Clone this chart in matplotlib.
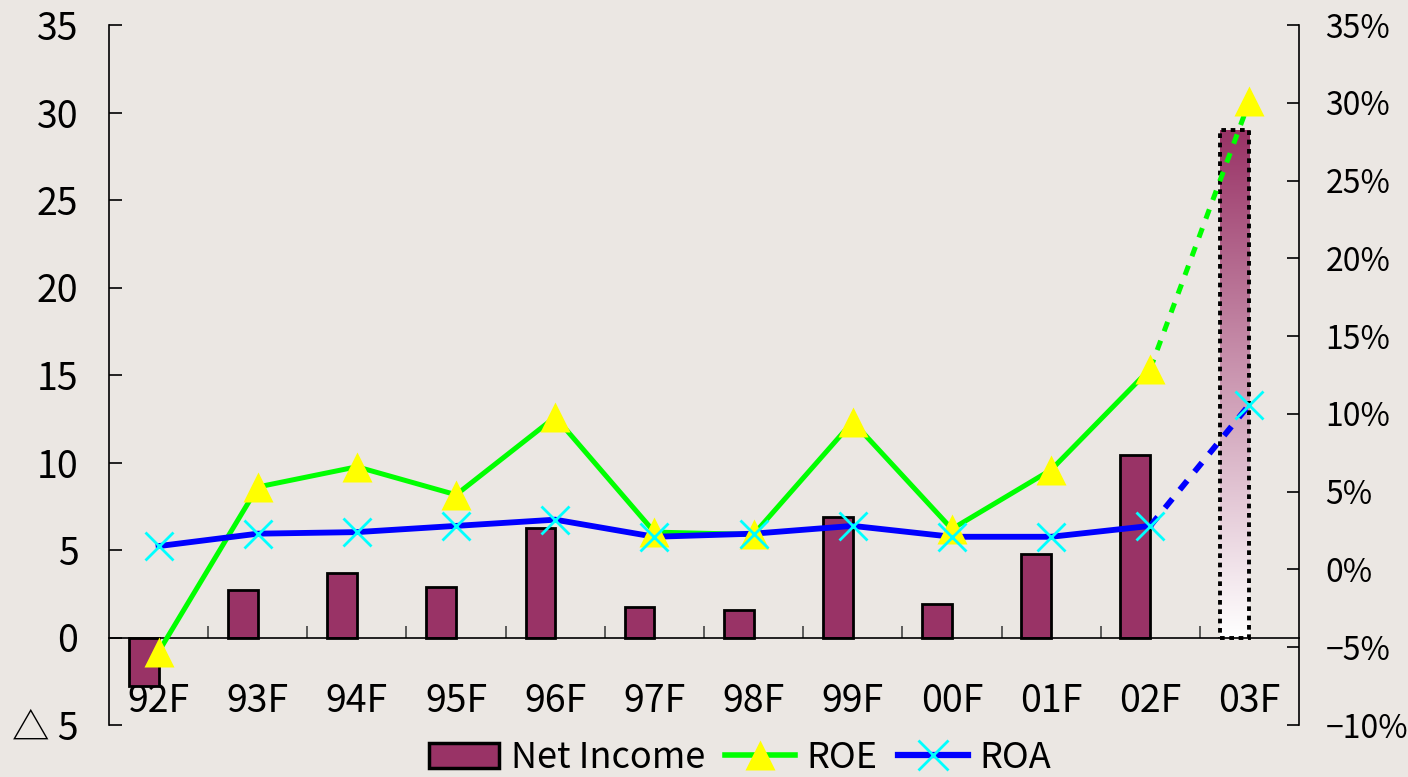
import numpy as np
import matplotlib
matplotlib.use("Agg")
import matplotlib.pyplot as plt
from matplotlib.patches import Patch
from matplotlib.lines import Line2D
from matplotlib.ticker import FuncFormatter

plt.rcParams["font.family"] = ["Noto Sans CJK JP", "DejaVu Sans"]

# data
years = ["92F", "93F", "94F", "95F", "96F", "97F", "98F", "99F", "00F", "01F", "02F", "03F"]
net_income = [-2.75, 2.7, 3.7, 2.9, 6.25, 1.75, 1.6, 6.9, 1.9, 4.8, 10.45, 29.0]
roe = [-5.3, 5.3, 6.6, 4.8, 9.8, 2.4, 2.25, 9.5, 2.6, 6.4, 12.9, 30.1]  # %
roa = [1.5, 2.3, 2.4, 2.8, 3.2, 2.1, 2.3, 2.8, 2.1, 2.1, 2.8, 10.6]  # %

bg = "#ebe7e3"
plum = "#993366"

fig = plt.figure(figsize=(14.08, 7.77), dpi=100, facecolor=bg)
ax = fig.add_axes([109 / 1408, 1 - 725 / 777, 1190 / 1408, 700 / 777])
ax.set_facecolor(bg)

x = np.arange(len(years))

# bars sit just left of the category centre
bars = ax.bar(x - 0.3, net_income, width=0.3, align="edge",
              color=plum, edgecolor="black", linewidth=2, zorder=2)

# forecast bar: gradient fill, dotted outline
last = bars[-1]
last.set_facecolor("none")
last.set_linestyle((0, (1.2, 1.2)))
last.set_linewidth(2.8)
last.set_zorder(3)
t = np.linspace(0, 1, 256)[:, None]
top_rgb = np.array(matplotlib.colors.to_rgb(plum))
grad = (1 - t)[..., None] * top_rgb + t[..., None] * np.ones(3)
grad = np.repeat(grad, 2, axis=1)
bx, bw, bh = last.get_x(), last.get_width(), last.get_height()
img = ax.imshow(grad, extent=[bx, bx + bw, 0, bh], aspect="auto",
                origin="upper", zorder=2, interpolation="bilinear")
img.set_clip_path(last)

ax.set_xlim(-0.5, len(years) - 0.5)
ax.set_ylim(-5, 35)
ax.set_yticks(np.arange(-5, 36, 5))
ax.yaxis.set_major_formatter(FuncFormatter(
    lambda v, p: "△ %d" % abs(v) if v < 0 else "%d" % v))

ax.spines["top"].set_visible(False)
ax.spines["right"].set_visible(False)
ax.spines["bottom"].set_position(("data", 0))
ax.spines["left"].set_linewidth(1.2)
ax.spines["bottom"].set_linewidth(1.2)

ax.set_xticks(x, years)
ax.set_xticks(np.arange(0.5, len(years) - 0.5, 1), minor=True)
ax.tick_params(axis="x", which="major", length=0, pad=32, labelsize=27)
ax.tick_params(axis="x", which="minor", direction="in", length=9, width=1.2, color="#444444")
ax.tick_params(axis="y", direction="in", length=9, width=1.2, pad=22, labelsize=27)

# secondary axis for ROE / ROA
ax2 = ax.twinx()
ax2.set_ylim(-10, 35)
ax2.set_yticks(np.arange(-10, 36, 5))
ax2.yaxis.set_major_formatter(FuncFormatter(
    lambda v, p: "\u2212%d%%" % abs(v) if v < 0 else "%d%%" % v))
for s in ["top", "left", "bottom"]:
    ax2.spines[s].set_visible(False)
ax2.spines["right"].set_linewidth(1.2)
ax2.tick_params(axis="y", direction="in", length=9, width=1.2, pad=19, labelsize=23)

dash = (0, (2.0, 2.0))
ax2.plot(x[:-1], roe[:-1], color="#00ff00", lw=3.6, zorder=3)
ax2.plot(x[-2:], roe[-2:], color="#00ff00", lw=3.6, linestyle=dash, zorder=3)
ax2.plot(x[:-1], roa[:-1], color="#0000ff", lw=4.2, zorder=4)
ax2.plot(x[-2:], roa[-2:], color="#0000ff", lw=4.2, linestyle=dash, zorder=4)
ax2.plot(x, roe, linestyle="none", marker="^", markersize=21,
         markerfacecolor="#ffff00", markeredgecolor="none", zorder=5)
ax2.plot(x, roa, linestyle="none", marker="x", markersize=20,
         markeredgecolor="#00ffff", markeredgewidth=2, zorder=6)

handles = [
    Patch(facecolor=plum, edgecolor="black", linewidth=2.5),
    Line2D([], [], color="#00ff00", lw=4, marker="^", markersize=22,
           markerfacecolor="#ffff00", markeredgecolor="none"),
    Line2D([], [], color="#0000ff", lw=4.5, marker="x", markersize=22,
           markeredgecolor="#00ffff", markeredgewidth=2),
]
fig.legend(handles, ["Net Income", "ROE", "ROA"], loc="center",
           bbox_to_anchor=(740 / 1408, 1 - 758 / 777), ncol=3, frameon=False,
           fontsize=26, handlelength=1.95, handleheight=0.7, handletextpad=0.32,
           columnspacing=0.55, borderaxespad=0)

fig.savefig("out.png", dpi=100, facecolor=bg)
